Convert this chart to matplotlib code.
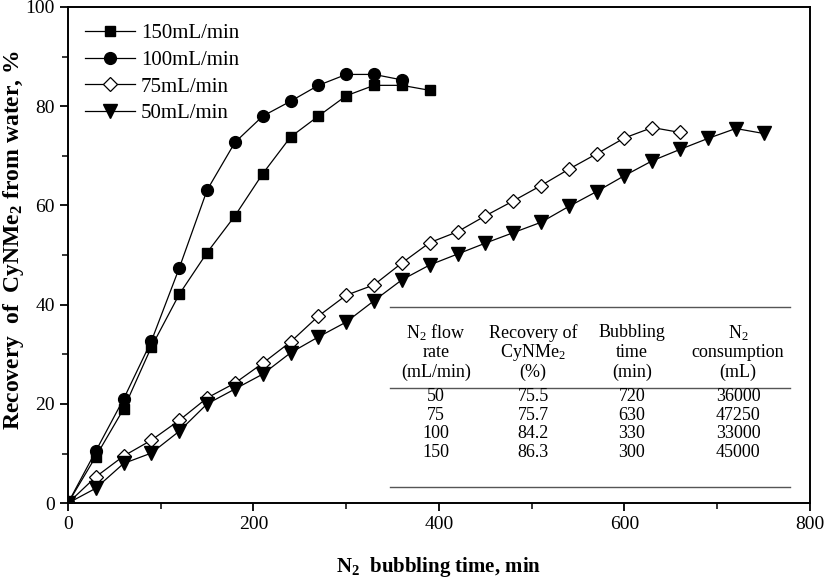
import matplotlib
matplotlib.use("Agg")
import matplotlib.pyplot as plt
from matplotlib.ticker import MultipleLocator

plt.rcParams['font.family'] = ['Liberation Serif', 'DejaVu Serif']
plt.rcParams['mathtext.fontset'] = 'custom'
plt.rcParams['mathtext.rm'] = 'Liberation Serif'
plt.rcParams['mathtext.bf'] = 'Liberation Serif:bold'
plt.rcParams['mathtext.default'] = 'regular'

# bubbling time (min) and recovery (%) for each N2 flow rate
t150 = [0, 30, 60, 90, 120, 150, 180, 210, 240, 270, 300, 330, 360, 390]
r150 = [0, 9.4, 19.0, 31.5, 42.1, 50.5, 57.9, 66.4, 73.8, 78.0, 82.1, 84.2, 84.2, 83.2]

t100 = [0, 30, 60, 90, 120, 150, 180, 210, 240, 270, 300, 330, 360]
r100 = [0, 10.5, 21.0, 32.7, 47.4, 63.1, 72.7, 78.0, 81.0, 84.2, 86.4, 86.4, 85.3]

t75 = [0, 30, 60, 90, 120, 150, 180, 210, 240, 270, 300, 330, 360,
       390, 420, 450, 480, 510, 540, 570, 600, 630, 660]
r75 = [0, 5.3, 9.5, 12.7, 16.7, 21.2, 24.2, 28.2, 32.5, 37.7, 41.9, 44.0, 48.4,
       52.5, 54.7, 57.9, 60.9, 64.0, 67.3, 70.4, 73.6, 75.7, 74.7]

t50 = [0, 30, 60, 90, 120, 150, 180, 210, 240, 270, 300, 330, 360,
       390, 420, 450, 480, 510, 540, 570, 600, 630, 660, 690, 720, 750]
r50 = [0, 3.0, 8.0, 10.1, 14.5, 20.0, 23.0, 26.0, 30.3, 33.5, 36.5, 40.8, 45.0,
       48.0, 50.2, 52.4, 54.5, 56.6, 59.8, 62.8, 66.0, 69.0, 71.3, 73.5, 75.5, 74.5]

# summary table
tab_head = [['N$_2$ flow', 'rate', '(mL/min)'],
            ['Recovery of', 'CyNMe$_2$', '(%)'],
            ['Bubbling', 'time', '(min)'],
            ['N$_2$', 'consumption', '(mL)']]
tab_rows = [['50', '75.5', '720', '36000'],
            ['75', '75.7', '630', '47250'],
            ['100', '84.2', '330', '33000'],
            ['150', '86.3', '300', '45000']]

fig = plt.figure(figsize=(8.25, 5.79), dpi=100)
ax = fig.add_axes([0.0824, 0.131, 0.8994, 0.857])

lk = dict(color='black', lw=0.9)
ax.plot(t150, r150, marker='s', ms=7, mfc='black', mec='black', label='150mL/min', **lk)
ax.plot(t100, r100, marker='o', ms=8.5, mfc='black', mec='black', label='100mL/min', **lk)
ax.plot(t75, r75, marker='D', ms=7, mfc='white', mec='black', mew=0.9, label='75mL/min', **lk)
ax.plot(t50, r50, marker='v', ms=9.5, mfc='black', mec='black', label='50mL/min', **lk)

ax.set_xlim(0, 800)
ax.set_ylim(0, 100)
ax.xaxis.set_major_locator(MultipleLocator(200))
ax.xaxis.set_minor_locator(MultipleLocator(100))
ax.yaxis.set_major_locator(MultipleLocator(20))
ax.yaxis.set_minor_locator(MultipleLocator(10))
ax.tick_params(which='major', direction='out', length=6, width=1.3, labelsize=14)
ax.tick_params(which='minor', direction='out', length=4, width=1.1)
for s in ax.spines.values():
    s.set_linewidth(1.4)

ax.set_xlabel('N$_2$  bubbling time, min', fontsize=15, fontweight='bold')
ax.xaxis.set_label_coords(0.5, -0.129)
ax.xaxis.label.set_va('center')
ax.set_ylabel('Recovery  of  CyNMe$_2$ from water, %', fontsize=17, fontweight='bold')
ax.yaxis.set_label_coords(-0.074, 0.53)
ax.yaxis.label.set_va('center')

ax.legend(loc='upper left', frameon=False, fontsize=15, handlelength=2.4,
          handletextpad=0.3, labelspacing=0.34, borderaxespad=0.4,
          bbox_to_anchor=(0.0, 1.0))

# table drawn in axes coordinates
x0, x1 = 0.434, 0.973
for yl in (0.395, 0.232, 0.032):
    ax.plot([x0, x1], [yl, yl], transform=ax.transAxes, color='#555555', lw=1.0)
col_x = [0.496, 0.627, 0.760, 0.903]
head_y = [0.343, 0.304, 0.264]
row_y = [0.214, 0.176, 0.140, 0.103]
for cx, lines in zip(col_x, tab_head):
    for hy, txt in zip(head_y, lines):
        ax.text(cx, hy, txt, transform=ax.transAxes, ha='center', va='center', fontsize=13)
for ry, row in zip(row_y, tab_rows):
    for cx, txt in zip(col_x, row):
        ax.text(cx, ry, txt, transform=ax.transAxes, ha='center', va='center', fontsize=13)

fig.savefig('out.png', dpi=100)
